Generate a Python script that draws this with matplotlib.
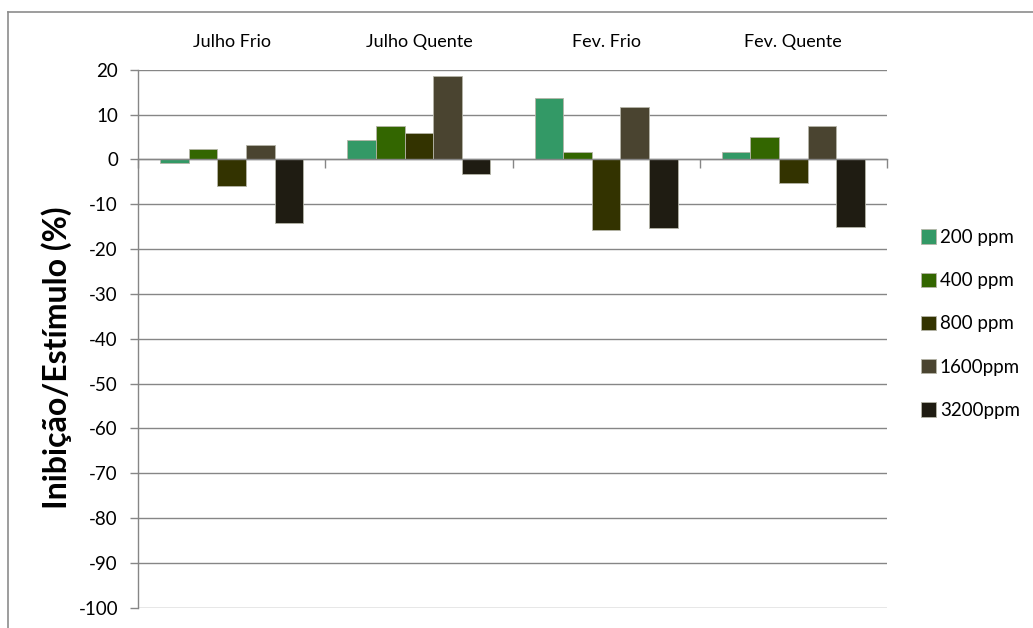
import matplotlib
matplotlib.use("Agg")
import matplotlib.pyplot as plt
from matplotlib.lines import Line2D
import numpy as np

plt.rcParams['font.family'] = ['Lato', 'DejaVu Sans']

# Data: inhibition / stimulation (%) per season and concentration
categories = ["Julho Frio", "Julho Quente", "Fev. Frio", "Fev. Quente"]
series_names = ["200 ppm", "400 ppm", "800 ppm", "1600ppm", "3200ppm"]
v200 = [-0.9, 4.4, 13.7, 1.7]
v400 = [2.4, 7.5, 1.7, 5.1]
v800 = [-6.0, 5.9, -15.8, -5.3]
v1600 = [3.2, 18.5, 11.7, 7.5]
v3200 = [-14.2, -3.3, -15.4, -15.0]
y_ticks = list(range(20, -101, -10))

series = [v200, v400, v800, v1600, v3200]
colors = ["#339966", "#336600", "#333300", "#4a4430", "#1f1c12"]

W, H = 1033, 628
PX = 72 / 100  # points per pixel at 100 dpi
fig = plt.figure(figsize=(W / 100, H / 100), dpi=100)
ax = fig.add_axes([138 / W, 1 - 607.7 / H, (887 - 138) / W, (607.7 - 69.7) / H])

x = np.arange(len(categories))
bw = 0.153
for i, (vals, col, name) in enumerate(zip(series, colors, series_names)):
    ax.bar(x + (i - 2) * bw, vals, width=bw, color=col, label=name,
           edgecolor="#b5b5a8", linewidth=0.6, zorder=3)

grid_col = "#868686"
ax.set_xlim(-0.5, len(categories) - 0.5)
ax.set_ylim(-100, 20)
ax.set_yticks(y_ticks)
ax.set_yticklabels([str(t) for t in y_ticks], fontsize=13.5)
ax.yaxis.grid(True, color=grid_col, linewidth=1.0, zorder=0)
ax.tick_params(axis='y', length=8 * PX, width=1, color=grid_col, pad=12 * PX)

for s in ("top", "right"):
    ax.spines[s].set_visible(False)
ax.spines["left"].set_color(grid_col)
ax.spines["left"].set_linewidth(1.0)
ax.spines["bottom"].set_position(("data", 0))
ax.spines["bottom"].set_color(grid_col)
ax.spines["bottom"].set_linewidth(1.0)
ax.spines["bottom"].set_zorder(4)

# category boundaries as tick marks on the zero line
ax.set_xticks(np.arange(-0.5, len(categories), 1.0))
ax.set_xticklabels([])
ax.tick_params(axis='x', length=9 * PX, width=1, color=grid_col, direction='out')

# category names above the plot area
for xi, name in zip(x, categories):
    ax.text(xi, 20 + 28 / 4.48, name, ha='center', va='center',
            fontsize=13, color="#000000")

ax.set_ylabel("Inibição/Estímulo (%)", fontsize=23, fontweight='bold')
ax.yaxis.set_label_coords(-(138 - 57) / (887 - 138), 1 - (358 - 69.7) / (607.7 - 69.7))
ax.yaxis.label.set_va('center')

leg = ax.legend(loc='upper left', bbox_to_anchor=(921 / W, 1 - 229 / H),
                bbox_transform=fig.transFigure, frameon=False, fontsize=13.5,
                handlelength=0.8, handleheight=0.8, handletextpad=0.2,
                labelspacing=1.4, borderpad=0, borderaxespad=0)

# outer chart frame (top and left edges visible)
fig.add_artist(Line2D([8 / W, 1.01], [1 - 12 / H] * 2, transform=fig.transFigure,
                      color="#8c8c8c", linewidth=1.2))
fig.add_artist(Line2D([8 / W] * 2, [1 - 12 / H, -0.01], transform=fig.transFigure,
                      color="#8c8c8c", linewidth=1.2))

fig.savefig("out.png", dpi=100)
